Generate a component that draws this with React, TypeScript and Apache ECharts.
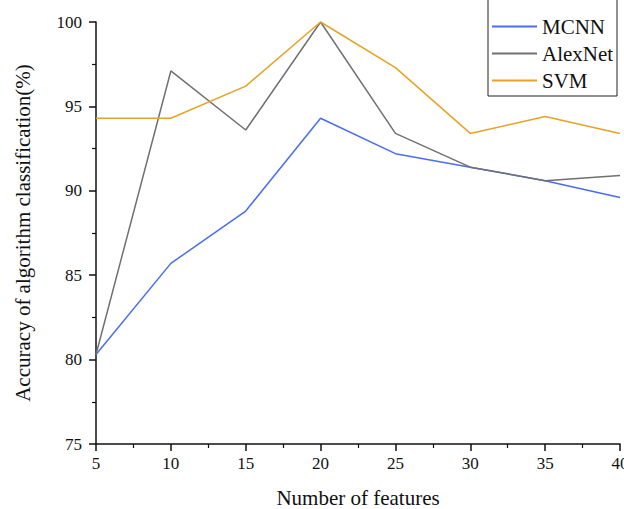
import React, { useEffect, useRef } from "react";
import * as echarts from "echarts";

const features = [5, 10, 15, 20, 25, 30, 35, 40];
const mcnn = [80.3, 85.7, 88.8, 94.3, 92.2, 91.4, 90.6, 89.6];
const alexnet = [80.3, 97.1, 93.6, 100, 93.4, 91.4, 90.6, 90.9];
const svm = [94.3, 94.3, 96.2, 100, 97.3, 93.4, 94.4, 93.4];
const seriesNames = ["MCNN", "AlexNet", "SVM"];
const colors = ["#4a6cf2", "#707070", "#e6a323"];

const FONT = "'Liberation Serif', 'Times New Roman', serif";

export default function App() {
  const ref = useRef<HTMLDivElement>(null);
  useEffect(() => {
    if (!ref.current) return;
    const chart = echarts.init(ref.current, undefined, { renderer: "svg" });
    const datasets = [mcnn, alexnet, svm];
    chart.setOption({
      animation: false,
      backgroundColor: "#ffffff",
      textStyle: { fontFamily: FONT },
      grid: { left: 96, right: 4, top: 22, bottom: 65, outerBoundsMode: "none", containLabel: false },
      legend: {
        orient: "vertical",
        left: 492,
        top: 16,
        padding: 0,
        icon: "rect",
        itemWidth: 45,
        itemHeight: 2,
        itemGap: 6,
        data: seriesNames,
        textStyle: { fontFamily: FONT, fontSize: 21, lineHeight: 21, color: "#111" },
      },
      graphic: [
        {
          type: "polyline",
          shape: { points: [[488, 0], [488, 96], [617, 96], [617, 0]] },
          style: { stroke: "#222", lineWidth: 1, fill: "none" },
          z: 100,
        },
      ],
      xAxis: {
        type: "value",
        min: 5,
        max: 40,
        interval: 5,
        name: "Number of features",
        nameLocation: "middle",
        nameGap: 43,
        nameTextStyle: { fontFamily: FONT, fontSize: 21, color: "#111" },
        axisLine: { show: true, lineStyle: { color: "#111", width: 1.5 } },
        axisTick: { show: true, length: 7, lineStyle: { color: "#111", width: 1.5 } },
        minorTick: { show: true, splitNumber: 2, length: 4, lineStyle: { color: "#111", width: 1.2 } },
        splitLine: { show: false },
        axisLabel: { fontFamily: FONT, fontSize: 17, color: "#111", margin: 11 },
      },
      yAxis: {
        type: "value",
        min: 75,
        max: 100,
        interval: 5,
        name: "Accuracy of algorithm classification(%)",
        nameLocation: "middle",
        nameGap: 63,
        nameTextStyle: { fontFamily: FONT, fontSize: 21, color: "#111" },
        axisLine: { show: true, lineStyle: { color: "#111", width: 1.5 } },
        axisTick: { show: true, length: 7, lineStyle: { color: "#111", width: 1.5 } },
        minorTick: { show: true, splitNumber: 2, length: 4, lineStyle: { color: "#111", width: 1.2 } },
        splitLine: { show: false },
        axisLabel: { fontFamily: FONT, fontSize: 17, color: "#111", margin: 14 },
      },
      series: seriesNames.map((name, i) => ({
        name,
        type: "line",
        data: features.map((f, j) => [f, datasets[i][j]]),
        showSymbol: false,
        symbol: "none",
        lineStyle: { color: colors[i], width: 1.5 },
        itemStyle: { color: colors[i] },
      })),
    });
    return () => chart.dispose();
  }, []);
  return <div ref={ref} style={{ width: 624, height: 509, position: "absolute", left: 0, top: 0 }} />;
}
